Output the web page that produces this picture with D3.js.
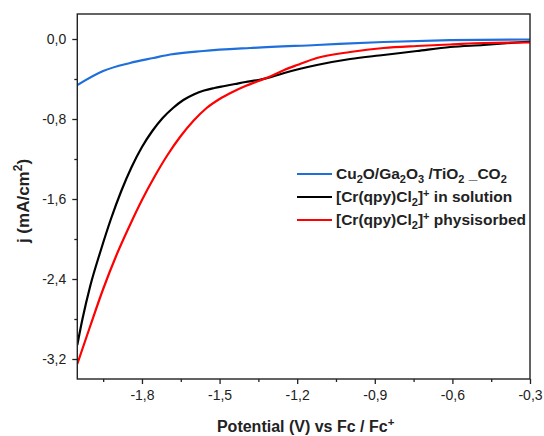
<!DOCTYPE html>
<html><head><meta charset="utf-8">
<script src="https://cdn.jsdelivr.net/npm/d3@7"></script>
<style>body{margin:0;background:#fff}svg{display:block}text{font-family:"Liberation Sans",Arial,sans-serif}</style>
</head><body><svg id="c" width="544" height="436"></svg>
<script>
const blueV = [-2.05,-1.95,-1.846,-1.756,-1.691,-1.563,-1.382,-1.124,-0.866,-0.608,-0.3];
const blueJ = [-0.46,-0.32,-0.24,-0.19,-0.155,-0.12,-0.09,-0.06,-0.03,-0.012,-0.005];
const blackV = [-2.05,-2.03,-2.00,-1.96,-1.92,-1.88,-1.84,-1.80,-1.76,-1.72,-1.68,-1.64,-1.60,-1.56,-1.52,-1.48,-1.44,-1.40,-1.35,-1.30,-1.25,-1.124,-0.995,-0.866,-0.737,-0.608,-0.479,-0.3];
const blackJ = [-3.06,-2.80,-2.47,-2.12,-1.80,-1.52,-1.28,-1.08,-0.92,-0.79,-0.69,-0.61,-0.555,-0.515,-0.49,-0.47,-0.45,-0.43,-0.41,-0.38,-0.34,-0.26,-0.20,-0.16,-0.12,-0.08,-0.06,-0.025];
const redV = [-2.05,-2.00,-1.95,-1.90,-1.85,-1.80,-1.75,-1.70,-1.65,-1.60,-1.55,-1.50,-1.45,-1.40,-1.35,-1.30,-1.25,-1.20,-1.124,-0.995,-0.866,-0.737,-0.608,-0.479,-0.3];
const redJ = [-3.25,-2.87,-2.50,-2.17,-1.88,-1.61,-1.37,-1.155,-0.97,-0.815,-0.69,-0.60,-0.53,-0.47,-0.42,-0.37,-0.31,-0.26,-0.19,-0.13,-0.09,-0.07,-0.055,-0.04,-0.035];
const xTicks = [-1.8,-1.5,-1.2,-0.9,-0.6,-0.3];
const xMinor = [-1.95,-1.65,-1.35,-1.05,-0.75,-0.45];
const yTicks = [0,-0.8,-1.6,-2.4,-3.2];
const yMinor = [-0.4,-1.2,-2.0,-2.8];
const seriesNames = ["Cu2O/Ga2O3 /TiO2 _CO2","[Cr(qpy)Cl2]+ in solution","[Cr(qpy)Cl2]+ physisorbed"];
const colors = ["#1e6fdc","#000000","#ff0000"];

const L=77.3,R=530,T=14,B=379;
const x=d3.scaleLinear().domain([-2.05,-0.3]).range([L,R]);
const y=d3.scaleLinear().domain([0.25,-3.4]).range([T,B]);
const fmt=d=>d3.format(".1f")(d).replace(".",",").replace("−","-");
const svg=d3.select("#c");

svg.append("clipPath").attr("id","cp").append("rect").attr("x",L).attr("y",T).attr("width",R-L).attr("height",B-T);
const line=d3.line().x(d=>x(d[0])).y(d=>y(d[1])).curve(d3.curveMonotoneX);
const series=[[blueV,blueJ],[blackV,blackJ],[redV,redJ]];
const g=svg.append("g").attr("clip-path","url(#cp)");
[1,2,0].forEach(i=>{
  const [vs,js]=series[i];
  g.append("path").attr("d",line(vs.map((v,k)=>[v,js[k]]))).attr("fill","none").attr("stroke",colors[i]).attr("stroke-width",2.2).attr("stroke-linejoin","round");
});

// axes
const xa=svg.append("g").attr("transform",`translate(0,${B})`).call(d3.axisBottom(x).tickValues(xTicks).tickFormat(fmt).tickSize(5).tickPadding(6));
const xm=svg.append("g").attr("transform",`translate(0,${B})`).call(d3.axisBottom(x).tickValues(xMinor).tickFormat("").tickSize(3));
const ya=svg.append("g").attr("transform",`translate(${L},0)`).call(d3.axisLeft(y).tickValues(yTicks).tickFormat(fmt).tickSize(5).tickPadding(6));
const ym=svg.append("g").attr("transform",`translate(${L},0)`).call(d3.axisLeft(y).tickValues(yMinor).tickFormat("").tickSize(3));
[xa,xm,ya,ym].forEach(a=>{a.select(".domain").remove();a.selectAll("line").attr("stroke","#222").attr("stroke-width",1.3);a.selectAll("text").attr("font-size",14).attr("fill","#222").attr("font-family","Liberation Sans, Arial, sans-serif");});
svg.append("rect").attr("x",L).attr("y",T).attr("width",R-L).attr("height",B-T).attr("fill","none").attr("stroke","#222").attr("stroke-width",1.4);

// axis titles
const xt=svg.append("text").attr("x",(L+R)/2+2).attr("y",432).attr("text-anchor","middle").attr("font-size",16).attr("font-weight","bold").attr("fill","#222");
xt.append("tspan").text("Potential (V) vs Fc / Fc");
xt.append("tspan").text("+").attr("font-size",11.5).attr("dy",-6);
const yt=svg.append("text").attr("transform","translate(29,201) rotate(-90)").attr("text-anchor","middle").attr("font-size",17).attr("font-weight","bold").attr("fill","#222");
yt.append("tspan").text("j (mA/cm");
yt.append("tspan").text("2").attr("font-size",12).attr("dy",-7);
yt.append("tspan").text(")").attr("dy",7);

// legend
const legY=[174,197,220];
const leg=svg.append("g");
function rich(t,parts){parts.forEach(p=>{const s=t.append("tspan").text(p[0]);if(p[1]==="sub"){s.attr("font-size",11).attr("dy",4);}else if(p[1]==="sup"){s.attr("font-size",11).attr("dy",-5);}else if(p[1]==="up"){s.attr("dy",-4);}else if(p[1]==="down"){s.attr("dy",5);}});}
const legParts=[
 [["Cu"],["2","sub"],["O/Ga","up"],["2","sub"],["O","up"],["3","sub"],[" /TiO","up"],["2","sub"],[" _CO","up"],["2","sub"]],
 [["[Cr(qpy)Cl"],["2","sub"],["]","up"],["+","sup"],[" in solution","down"]],
 [["[Cr(qpy)Cl"],["2","sub"],["]","up"],["+","sup"],[" physisorbed","down"]]
];
seriesNames.forEach((n,i)=>{
  leg.append("line").attr("x1",297).attr("x2",332).attr("y1",legY[i]).attr("y2",legY[i]).attr("stroke",colors[i]).attr("stroke-width",2.2);
  const t=leg.append("text").attr("x",336).attr("y",legY[i]+5).attr("font-size",15.5).attr("font-weight","bold").attr("fill","#222");
  rich(t,legParts[i]);
});
</script></body></html>
